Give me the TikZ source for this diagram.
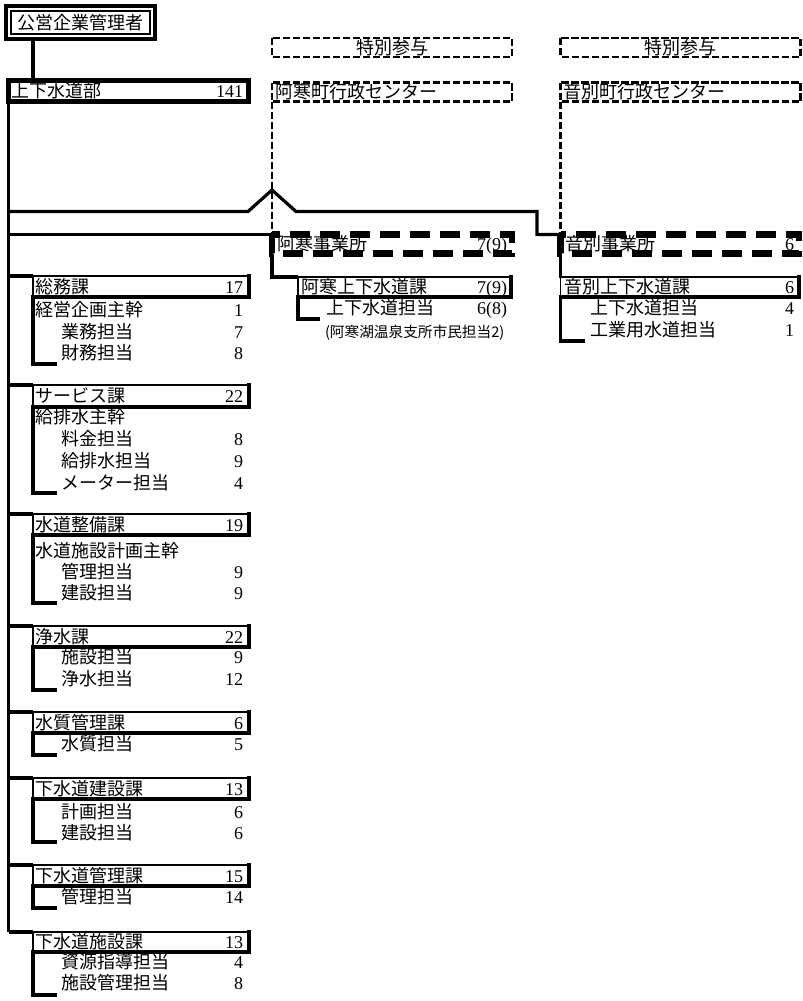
\documentclass[tikz,border=0pt]{standalone}
\usepackage{fontspec}
\setmainfont{Liberation Serif}
\newfontfamily\jpf{Noto Sans CJK JP}
\usetikzlibrary{fit}
\newcommand\MkBox[5]{\path (#2,#3) coordinate (#1-a) (#4,#5) coordinate (#1-b);
  \node[fit=(#1-a)(#1-b), inner sep=0pt, outer sep=0pt] (#1) {};}
\newcommand\SecBorder[1]{%
  \draw[line width=1.7pt, line cap=rect] (#1.north west) -- (#1.north east);
  \draw[line width=2.5pt, line cap=rect] (#1.north east) -- (#1.south east) -- (#1.south west);
  \draw[line width=1.2pt] (#1.south west) -- (#1.north west);}
\newcommand\Sec[5]{%
  \MkBox{#1}{33}{#2}{249}{#3}
  \SecBorder{#1}
  \node[jp, anchor=west] (#1-t) at (36,{(#2+#3)/2}) {#4};
  \node[nm, anchor=east] (#1-n) at (243,{(#2+#3)/2}) {#5};
  \draw[conn] (#1.north west -| dept.south west) -- (#1.north west);}
\newcommand\RowT[4]{\node[jp, anchor=west] (#1) at (#2,#3) {#4};}
\newcommand\RowN[4]{\node[nm, anchor=east] (#1) at (#2,#3) {#4};}
\newcommand\Brk[3]{\draw[conn] (#1.south west) -- (#1.south west |- 0,#2) -- (#3,#2);}
\begin{document}
\begin{tikzpicture}[x=0.75pt, y=-0.75pt,
  jp/.style={font=\jpf\fontsize{13.5pt}{15pt}\selectfont, inner sep=0pt, outer sep=0pt, text height=11.8pt, text depth=1.7pt},
  jpsmall/.style={font=\jpf\fontsize{11pt}{13pt}\selectfont, inner sep=0pt, outer sep=0pt, text height=9.6pt, text depth=1.4pt},
  nm/.style={font=\fontsize{13.5pt}{15pt}\selectfont, inner sep=0pt, outer sep=0pt, text height=11.8pt, text depth=1.7pt},
  conn/.style={line width=2.4pt},
  thindash/.style={line width=2.2pt, dash pattern=on 5.5pt off 2pt},
  thickdash/.style={line width=4.6pt, dash pattern=on 15pt off 7.5pt}]
\useasboundingbox (0,0) rectangle (803,1001);

% top manager
\MkBox{mgr}{6}{6}{155}{39}
\draw[line width=3.2pt] (mgr.north west) rectangle (mgr.south east);
\draw[line width=1.5pt] ([xshift=3.75pt,yshift=-3.75pt]mgr.north west) rectangle ([xshift=-3.75pt,yshift=3.75pt]mgr.south east);
\node[jp, anchor=center] (mgr-t) at (mgr.center) {公営企業管理者};

% department
\MkBox{dept}{8.5}{80.5}{248.5}{101.5}
\draw[line width=3.75pt] (dept.north west) rectangle (dept.south east);
\node[jp, anchor=west] (dept-t) at (12,91) {上下水道部};
\node[nm, anchor=east] (dept-n) at (243,91) {141};
\draw[conn] (mgr.south -| 33,0) -- (dept.north -| 33,0);

% trunk
\draw[conn] (dept.south west) -- (8.5,932);

% special advisors and centers
\MkBox{sp1}{272}{38}{512}{57}
\draw[thindash] (sp1.north west) rectangle (sp1.south east);
\node[jp, anchor=center] (sp1-t) at (392,47.5) {特別参与};
\MkBox{akc}{272}{82.5}{512}{101.5}
\draw[thindash] (akc.north west) rectangle (akc.south east);
\node[jp, anchor=west] (akc-t) at (275,92) {阿寒町行政センター};
\MkBox{sp2}{560.5}{38}{800.5}{57}
\draw[thindash] (sp2.north west) rectangle (sp2.south east);
\node[jp, anchor=center] (sp2-t) at (680,47.5) {特別参与};
\MkBox{obc}{560.5}{82.5}{800.5}{101.5}
\draw[thindash] (obc.north west) rectangle (obc.south east);
\node[jp, anchor=west] (obc-t) at (563,92) {音別町行政センター};

% offices
\MkBox{akj}{272}{234.5}{512}{253.5}
\draw[thickdash] (akj.north west) rectangle (akj.south east);
\node[jp, anchor=west] (akj-t) at (277,244) {阿寒事業所};
\node[nm, anchor=east] (akj-n) at (507,244) {7(9)};
\MkBox{obj}{560.5}{234.5}{799}{253.5}
\draw[thickdash] (obj.north west) rectangle (obj.south east);
\node[jp, anchor=west] (obj-t) at (565,244) {音別事業所};
\node[nm, anchor=east] (obj-n) at (794,244) {6};

\draw[thindash] (akc.south west) -- (akj.north west);
\draw[thindash] (obc.south west) -- (obj.north west);

% connectors from trunk
\draw[conn] (dept.south west |- 0,211.5) -- (248,211.5) -- (272,190) -- (296,211.5) -- (537,211.5) -- (537,0 |- obj.north west) -- (obj.north west);
\draw[conn] (dept.south west |- akj.north west) -- (akj.north west);

% Akan section
\MkBox{aks}{298}{277}{511}{297}
\SecBorder{aks}
\node[jp, anchor=west] (aks-t) at (301,287) {阿寒上下水道課};
\node[nm, anchor=east] (aks-n) at (507,287) {7(9)};
\draw[conn] (akj.south west) -- (akj.south west |- aks.north west) -- (aks.north west);
\RowT{ak1}{326}{308}{上下水道担当}
\RowN{ak1n}{507}{308}{6(8)}
\node[jpsmall, anchor=west] (aknote) at (325,332) {(阿寒湖温泉支所市民担当2)};
\Brk{aks}{319}{320}

% Onbetsu section
\MkBox{obs}{560.5}{277}{799}{297}
\SecBorder{obs}
\node[jp, anchor=west] (obs-t) at (564,287) {音別上下水道課};
\node[nm, anchor=east] (obs-n) at (794,287) {6};
\draw[conn] (obj.south west) -- (obs.north west);
\RowT{ob1}{590}{308}{上下水道担当}
\RowN{ob1n}{794}{308}{4}
\RowT{ob2}{590}{330}{工業用水道担当}
\RowN{ob2n}{794}{330}{1}
\Brk{obs}{341}{585}

% sections
\Sec{s1}{276}{297}{総務課}{17}
\RowT{s1a}{36}{310}{経営企画主幹}\RowN{s1an}{243}{310}{1}
\RowT{s1b}{61}{332}{業務担当}\RowN{s1bn}{243}{332}{7}
\RowT{s1c}{61}{353}{財務担当}\RowN{s1cn}{243}{353}{8}
\Brk{s1}{364}{57}

\Sec{s2}{385}{407}{サービス課}{22}
\RowT{s2a}{36}{417}{給排水主幹}
\RowT{s2b}{61}{439}{料金担当}\RowN{s2bn}{243}{439}{8}
\RowT{s2c}{61}{461}{給排水担当}\RowN{s2cn}{243}{461}{9}
\RowT{s2d}{61}{483}{メーター担当}\RowN{s2dn}{243}{483}{4}
\Brk{s2}{493}{57}

\Sec{s3}{514}{535}{水道整備課}{19}
\RowT{s3a}{36}{551}{水道施設計画主幹}
\RowT{s3b}{61}{572}{管理担当}\RowN{s3bn}{243}{572}{9}
\RowT{s3c}{61}{593}{建設担当}\RowN{s3cn}{243}{593}{9}
\Brk{s3}{603}{57}

\Sec{s4}{626}{647}{浄水課}{22}
\RowT{s4a}{61}{657}{施設担当}\RowN{s4an}{243}{657}{9}
\RowT{s4b}{61}{679}{浄水担当}\RowN{s4bn}{243}{679}{12}
\Brk{s4}{690}{57}

\Sec{s5}{712}{733}{水質管理課}{6}
\RowT{s5a}{61}{744}{水質担当}\RowN{s5an}{243}{744}{5}
\Brk{s5}{755}{57}

\Sec{s6}{778}{799}{下水道建設課}{13}
\RowT{s6a}{61}{812}{計画担当}\RowN{s6an}{243}{812}{6}
\RowT{s6b}{61}{833}{建設担当}\RowN{s6bn}{243}{833}{6}
\Brk{s6}{842}{57}

\Sec{s7}{865}{886}{下水道管理課}{15}
\RowT{s7a}{61}{897}{管理担当}\RowN{s7an}{243}{897}{14}
\Brk{s7}{908}{57}

\Sec{s8}{932}{952}{下水道施設課}{13}
\RowT{s8a}{61}{962}{資源指導担当}\RowN{s8an}{243}{962}{4}
\RowT{s8b}{61}{983}{施設管理担当}\RowN{s8bn}{243}{983}{8}
\Brk{s8}{995}{57}
\end{tikzpicture}
\end{document}
